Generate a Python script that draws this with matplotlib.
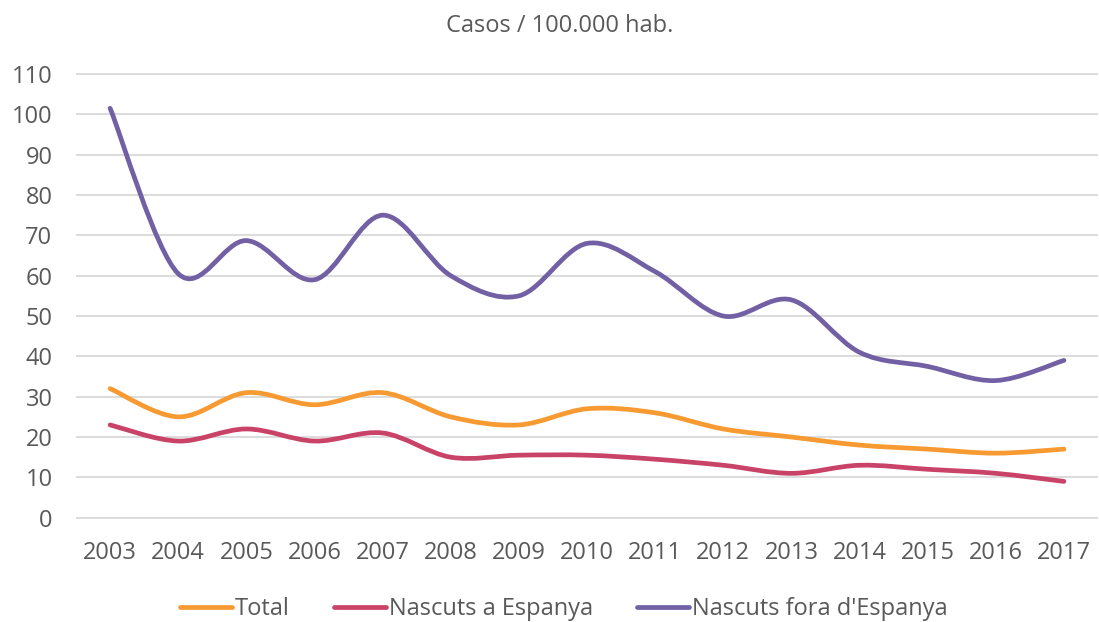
import numpy as np
import matplotlib.pyplot as plt
from matplotlib.path import Path
from matplotlib.patches import PathPatch
from matplotlib.lines import Line2D

plt.rcParams['font.family'] = ['Open Sans', 'DejaVu Sans']

years = ['2003', '2004', '2005', '2006', '2007', '2008', '2009', '2010',
         '2011', '2012', '2013', '2014', '2015', '2016', '2017']
total = [32, 25, 31, 28, 31, 25, 23, 27, 26, 22, 20, 18, 17, 16, 17]
nascuts_espanya = [23, 19, 22, 19, 21, 15, 15.5, 15.5, 14.5, 13, 11, 13, 12, 11, 9]
nascuts_fora = [101.5, 60.5, 68.7, 59, 75, 60, 55, 68, 61, 50, 54, 41, 37.5, 34, 39]

series_names = ['Total', 'Nascuts a Espanya', "Nascuts fora d'Espanya"]
colors = ['#f89a32', '#c94368', '#7160a3']
text_color = '#595959'


def smooth_path(x, y):
    # bezier segments like a spreadsheet "smoothed line"
    pts = np.column_stack([x, y]).astype(float)
    n = len(pts)
    verts = [pts[0]]
    codes = [Path.MOVETO]
    for i in range(n - 1):
        p0 = pts[i - 1] if i > 0 else pts[i]
        p1 = pts[i]
        p2 = pts[i + 1]
        p3 = pts[i + 2] if i + 2 < n else pts[i + 1]
        c1 = p1 + (p2 - p0) / 6
        c2 = p2 - (p3 - p1) / 6
        verts += [c1, c2, p2]
        codes += [Path.CURVE4] * 3
    return Path(verts, codes)


fig = plt.figure(figsize=(10.99, 6.22), dpi=100)
ax = fig.add_axes([0.0692, 0.1612, 0.9299, 0.7263])

x = np.arange(len(years))
handles = []
for vals, name, col in zip([total, nascuts_espanya, nascuts_fora], series_names, colors):
    patch = PathPatch(smooth_path(x, vals), fill=False, edgecolor=col, lw=3.4,
                      capstyle='round', joinstyle='round', zorder=3)
    ax.add_patch(patch)
    handles.append(Line2D([], [], color=col, lw=3.4, solid_capstyle='round', label=name))

ax.set_xlim(-0.5, len(years) - 0.5)
ax.set_ylim(-1, 111)
ax.set_yticks(range(0, 111, 10))
ax.set_xticks(x)
ax.set_xticklabels(years)
ax.grid(axis='y', color='#d9d9d9', lw=1.3)
ax.set_axisbelow(True)
for s in ax.spines.values():
    s.set_visible(False)
ax.tick_params(length=0, labelsize=17, colors=text_color)
ax.tick_params(axis='x', pad=14)
ax.tick_params(axis='y', pad=17)

fig.text(0.509, 0.958, 'Casos / 100.000 hab.', ha='center', va='center',
         fontsize=17, color=text_color)

leg = fig.legend(handles=handles, loc='center', bbox_to_anchor=(0.513, 0.021),
                 ncol=3, frameon=False, fontsize=17, handlelength=2.2,
                 handletextpad=0.1, columnspacing=1.9)
for t in leg.get_texts():
    t.set_color(text_color)

fig.savefig('out.png', dpi=100)
